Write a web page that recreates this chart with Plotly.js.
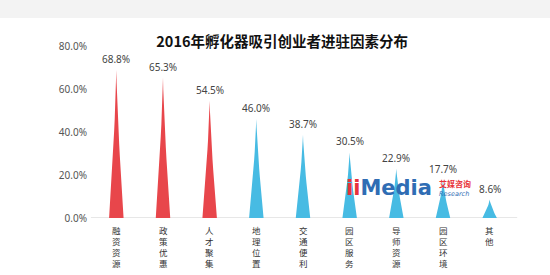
<!DOCTYPE html>
<html>
<head>
<meta charset="utf-8">
<script src="https://cdn.plot.ly/plotly-3.0.1.min.js"></script>
<style>html,body{margin:0;padding:0;background:#f3f3f3;}#chart{width:550px;height:275px;}</style>
</head>
<body>
<div id="chart"></div>
<script>
var categories = ["融资资源","政策优惠","人才聚集","地理位置","交通便利","园区服务","导师资源","园区环境","其他"];
var values = [68.8, 65.3, 54.5, 46.0, 38.7, 30.5, 22.9, 17.7, 8.6];
var groups = ["red","red","red","blue","blue","blue","blue","blue","blue"];
var yTicks = [0, 20, 40, 60, 80];

var COLORS = {red: "#e8464b", blue: "#47bbe3"};
var HALF = 0.155; // half base width in category units
var traces = [];
values.forEach(function (v, i) {
  var xs = [], ys = [];
  var n = 12;
  for (var k = 0; k <= n; k++) { var t = k / n; xs.push(i - HALF * Math.pow(1 - t, 1.35)); ys.push(v * t); }
  for (var k = n - 1; k >= 0; k--) { var t = k / n; xs.push(i + HALF * Math.pow(1 - t, 1.35)); ys.push(v * t); }
  traces.push({
    type: "scatter", mode: "lines", x: xs, y: ys, fill: "toself",
    fillcolor: COLORS[groups[i]], line: {width: 0, color: COLORS[groups[i]]},
    hoverinfo: "skip", showlegend: false
  });
});

var annotations = [];
values.forEach(function (v, i) {
  annotations.push({
    x: i, y: v, xref: "x", yref: "y", text: v.toFixed(1) + "%", showarrow: false,
    yanchor: "bottom", yshift: 2,
    font: {family: "Noto Sans, sans-serif", size: 10, color: "#444"}
  });
});
categories.forEach(function (c, i) {
  annotations.push({
    x: i, y: 0, xref: "x", yref: "y", text: Array.from(c).join("<br>"), showarrow: false,
    yanchor: "top", yshift: -5, borderpad: 0,
    font: {family: "Noto Sans CJK SC, sans-serif", size: 8.5, color: "#333"}
  });
});
// watermark logo
annotations.push({xref: "paper", yref: "paper", x: 0.6, y: 0.175, xanchor: "left", yanchor: "middle",
  text: "<b><span style='color:#e8333a'>ii</span>Media</b>", showarrow: false, borderpad: 0,
  font: {family: "DejaVu Sans, sans-serif", size: 21, color: "#2f6db4"}});
annotations.push({xref: "paper", yref: "paper", x: 0.822, y: 0.2, xanchor: "left", yanchor: "middle",
  text: "<b>艾媒咨询</b>", showarrow: false, borderpad: 0,
  font: {family: "Noto Sans CJK SC, sans-serif", size: 8, color: "#e8333a"}});
annotations.push({xref: "paper", yref: "paper", x: 0.822, y: 0.14, xanchor: "left", yanchor: "middle",
  text: "<i>Research</i>", showarrow: false, borderpad: 0,
  font: {family: "DejaVu Sans, sans-serif", size: 6.5, color: "#2f6db4"}});

var layout = {
  width: 550, height: 275,
  margin: {l: 93, r: 37, t: 46, b: 57},
  paper_bgcolor: "#f3f3f3", plot_bgcolor: "rgba(0,0,0,0)",
  title: {text: "<b>2016年孵化器吸引创业者进驻因素分布</b>", x: 0.513, xanchor: "center", y: 0.847, yanchor: "middle",
    font: {family: "Noto Sans CJK SC, sans-serif", size: 14.5, color: "#111"}},
  xaxis: {range: [-0.5, 8.5], showticklabels: false, showgrid: false, zeroline: false,
    showline: false, fixedrange: true},
  yaxis: {range: [0, 80], tickvals: yTicks, ticktext: yTicks.map(function (t) { return t.toFixed(1) + "%"; }),
    showgrid: false, zeroline: false, showline: false,
    ticks: "", ticklabelstandoff: 5,
    tickfont: {family: "Noto Sans, sans-serif", size: 10, color: "#555"}},
  shapes: [
    {type: "rect", xref: "paper", yref: "paper", x0: -0.2415, x1: 1.1, y0: -0.35, y1: 1.163,
      fillcolor: "#ffffff", line: {width: 0}, layer: "below"},
    {type: "line", xref: "paper", yref: "y", x0: -0.005, x1: 1.01, y0: 0, y1: 0,
      line: {color: "#cfcfcf", width: 1}, layer: "below"}
  ],
  annotations: annotations
};
Plotly.newPlot("chart", traces, layout, {displayModeBar: false, staticPlot: true});
</script>
</body>
</html>
